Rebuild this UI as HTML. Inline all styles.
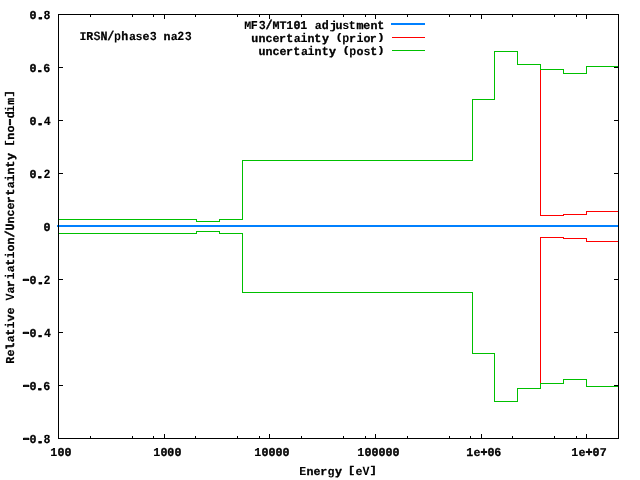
<!DOCTYPE html>
<html lang="en">
<head>
<meta charset="utf-8">
<title>IRSN/phase3 na23</title>
<style>
html,body{margin:0;padding:0;background:#ffffff;}
body{width:640px;height:480px;overflow:hidden;}
svg{display:block;}
svg rect{shape-rendering:crispEdges;}
svg text{text-rendering:geometricPrecision;font-family:"Liberation Mono",monospace;font-weight:bold;font-size:12.1px;fill:#000;stroke:#000;stroke-width:0.3px;stroke-linejoin:round;}
.t0{stroke-width:0.39px}
.t1{font-size:11.3px;stroke-width:0.76px}
.t2{font-size:12.3px;stroke-width:0.12px}
.t3{font-size:11.3px;stroke-width:0.69px}
.t4{stroke-width:0.24px}
.t5{stroke-width:0.35px}
.t6{font-size:12.5px;stroke-width:0.21px}
.t7{stroke-width:0.37px}
.t8{font-size:12.7px;stroke-width:0.08px}
.t9{font-size:11.7px;stroke-width:0.82px}
.t10{stroke-width:0.33px}
.t11{font-size:11.3px;stroke-width:0.78px}
.t12{font-size:11.3px;stroke-width:0.7px}
.t13{font-size:11.3px;stroke-width:0.75px}
.t14{stroke-width:0.2px}
.t15{stroke-width:0.29px}
.t16{stroke-width:0.21px}
.t17{stroke-width:0.41px}
.t18{stroke-width:0.27px}
.t19{font-size:11.5px;stroke-width:0.2px}
.t20{stroke-width:0.65px}
.t21{stroke-width:0.38px}
.t22{stroke-width:0.17px}
.t23{font-size:11.5px;stroke-width:0.22px}
.t24{font-size:11.9px;stroke-width:0.23px}
.t25{font-size:12.3px;stroke-width:0px;fill-opacity:0.99}
.t26{font-size:11.3px;stroke-width:0.33px}
.t27{font-size:11.3px;stroke-width:0.25px}
.t28{font-size:11.5px;stroke-width:0.03px}
.t29{font-size:11.3px;stroke-width:0.39px}
.t30{font-size:9.7px;stroke-width:0.28px}
.t31{font-size:11.5px;stroke-width:0.15px}
.t32{font-size:12.5px;stroke-width:0px}
.t33{font-size:9.7px;stroke-width:0.29px}
.t34{font-size:11.7px;stroke-width:0.15px}
.t35{font-size:12.7px;stroke-width:0.06px;fill-opacity:0.93}
.t36{font-size:12.7px;stroke-width:0.3px}
.t37{font-size:12.7px;stroke-width:0.33px}
.t38{font-size:12.5px;stroke-width:0.01px}
.t39{font-size:11.7px;stroke-width:0.13px}
.t40{font-size:11.7px;stroke-width:0.05px}
.t41{font-size:12.3px;stroke-width:0.06px}
.t42{font-size:11.7px;stroke-width:0.11px}
.t43{font-size:12.3px;stroke-width:0.04px}
.t44{font-size:11.3px;stroke-width:0.08px}
.t45{font-size:12.7px;stroke-width:0.44px}
.t46{font-size:11.3px;stroke-width:0.24px}
.t47{font-size:11.5px;stroke-width:0.19px}
.t48{stroke-width:0.15px}
.t49{stroke-width:0.23px}
.t50{font-size:11.7px;stroke-width:0.07px}
.t51{font-size:12.3px;stroke-width:0.25px}
.t52{font-size:11.3px;stroke-width:0.15px}
.t53{font-size:11.5px;stroke-width:0.3px}
.t54{font-size:11.7px;stroke-width:0.02px}
.t55{stroke-width:0.06px}
.t56{font-size:11.3px;stroke-width:0.31px}
.t57{stroke-width:0.26px}
.t58{font-size:11.7px;stroke-width:0.23px}
.t59{stroke-width:0.3px}
.t60{font-size:12.7px;stroke-width:0.07px}
.t61{stroke-width:0.34px}
.t62{font-size:11.3px;stroke-width:0.42px}
.t63{font-size:9.54px;stroke-width:0.17px}
.t64{font-size:12.5px;stroke-width:0px;fill-opacity:0.99}
.t65{font-size:11.3px;stroke-width:0.27px}
.t66{font-size:12.7px;stroke-width:0.04px}
.t67{font-size:9.54px;stroke-width:0.2px}
.t68{font-size:11.3px;stroke-width:0.29px}
.t69{font-size:11.7px;stroke-width:0.25px}
.t70{stroke-width:0.28px}
.t71{font-size:11.3px;stroke-width:0.43px}
.t72{font-size:9.54px;stroke-width:0.22px}
.t73{font-size:9.54px;stroke-width:0.18px}
.t74{stroke-width:0.18px}
.t75{font-size:11.5px;stroke-width:0.18px}
.t76{font-size:11.3px;stroke-width:0.63px}
.t77{font-size:11.7px;stroke-width:0.08px}
.t78{font-size:12.7px;stroke-width:0.15px}
.t79{font-size:11.5px;stroke-width:0.29px}
.t80{font-size:12.7px;stroke-width:0.12px}
.t81{font-size:11.3px;stroke-width:0.26px}
.t82{font-size:11.3px;stroke-width:0.35px}
.t83{font-size:12.7px;stroke-width:0.49px}
.t84{font-size:12.5px;stroke-width:0.29px}
.t85{font-size:11.7px;stroke-width:0.17px}
.t86{font-size:12.7px;stroke-width:0.2px}
.t87{font-size:9.7px;stroke-width:0.25px}
.t88{font-size:11.3px;stroke-width:0.23px}
.t89{font-size:11.7px;stroke-width:0.78px}
.t90{font-size:12.3px;stroke-width:0.2px}
.t91{font-size:12.7px;stroke-width:0px;fill-opacity:0.99}
.t92{font-size:9.7px;stroke-width:0.36px}
</style>
</head>
<body>
<svg width="640" height="480" viewBox="0 0 640 480" role="img" aria-label="IRSN/phase3 na23: relative variation and uncertainty versus energy">
<rect x="0" y="0" width="640" height="480" fill="#ffffff"/>
<g id="tics">
<rect x="58" y="434" width="1" height="5" fill="#000000"/>
<rect x="58" y="14" width="1" height="5" fill="#000000"/>
<rect x="164" y="434" width="1" height="5" fill="#000000"/>
<rect x="164" y="14" width="1" height="5" fill="#000000"/>
<rect x="269" y="434" width="1" height="5" fill="#000000"/>
<rect x="269" y="14" width="1" height="5" fill="#000000"/>
<rect x="375" y="434" width="1" height="5" fill="#000000"/>
<rect x="375" y="14" width="1" height="5" fill="#000000"/>
<rect x="481" y="434" width="1" height="5" fill="#000000"/>
<rect x="481" y="14" width="1" height="5" fill="#000000"/>
<rect x="586" y="434" width="1" height="5" fill="#000000"/>
<rect x="586" y="14" width="1" height="5" fill="#000000"/>
<rect x="90" y="436" width="1" height="3" fill="#000000"/>
<rect x="90" y="14" width="1" height="3" fill="#000000"/>
<rect x="132" y="436" width="1" height="3" fill="#000000"/>
<rect x="132" y="14" width="1" height="3" fill="#000000"/>
<rect x="153" y="436" width="1" height="3" fill="#000000"/>
<rect x="153" y="14" width="1" height="3" fill="#000000"/>
<rect x="195" y="436" width="1" height="3" fill="#000000"/>
<rect x="195" y="14" width="1" height="3" fill="#000000"/>
<rect x="237" y="436" width="1" height="3" fill="#000000"/>
<rect x="237" y="14" width="1" height="3" fill="#000000"/>
<rect x="259" y="436" width="1" height="3" fill="#000000"/>
<rect x="259" y="14" width="1" height="3" fill="#000000"/>
<rect x="301" y="436" width="1" height="3" fill="#000000"/>
<rect x="301" y="14" width="1" height="3" fill="#000000"/>
<rect x="343" y="436" width="1" height="3" fill="#000000"/>
<rect x="343" y="14" width="1" height="3" fill="#000000"/>
<rect x="365" y="436" width="1" height="3" fill="#000000"/>
<rect x="365" y="14" width="1" height="3" fill="#000000"/>
<rect x="407" y="436" width="1" height="3" fill="#000000"/>
<rect x="407" y="14" width="1" height="3" fill="#000000"/>
<rect x="449" y="436" width="1" height="3" fill="#000000"/>
<rect x="449" y="14" width="1" height="3" fill="#000000"/>
<rect x="470" y="436" width="1" height="3" fill="#000000"/>
<rect x="470" y="14" width="1" height="3" fill="#000000"/>
<rect x="512" y="436" width="1" height="3" fill="#000000"/>
<rect x="512" y="14" width="1" height="3" fill="#000000"/>
<rect x="554" y="436" width="1" height="3" fill="#000000"/>
<rect x="554" y="14" width="1" height="3" fill="#000000"/>
<rect x="576" y="436" width="1" height="3" fill="#000000"/>
<rect x="576" y="14" width="1" height="3" fill="#000000"/>
<rect x="58" y="14" width="5" height="1" fill="#000000"/>
<rect x="614" y="14" width="5" height="1" fill="#000000"/>
<rect x="58" y="67" width="5" height="1" fill="#000000"/>
<rect x="614" y="67" width="5" height="1" fill="#000000"/>
<rect x="58" y="120" width="5" height="1" fill="#000000"/>
<rect x="614" y="120" width="5" height="1" fill="#000000"/>
<rect x="58" y="173" width="5" height="1" fill="#000000"/>
<rect x="614" y="173" width="5" height="1" fill="#000000"/>
<rect x="58" y="226" width="5" height="1" fill="#000000"/>
<rect x="614" y="226" width="5" height="1" fill="#000000"/>
<rect x="58" y="279" width="5" height="1" fill="#000000"/>
<rect x="614" y="279" width="5" height="1" fill="#000000"/>
<rect x="58" y="332" width="5" height="1" fill="#000000"/>
<rect x="614" y="332" width="5" height="1" fill="#000000"/>
<rect x="58" y="385" width="5" height="1" fill="#000000"/>
<rect x="614" y="385" width="5" height="1" fill="#000000"/>
<rect x="58" y="438" width="5" height="1" fill="#000000"/>
<rect x="614" y="438" width="5" height="1" fill="#000000"/>
</g>
<g id="curves">
<rect x="57" y="225" width="561" height="2" fill="#0080ff"/>
<rect x="58" y="219" width="139" height="1" fill="#ff0000"/>
<rect x="196" y="219" width="1" height="3" fill="#ff0000"/>
<rect x="196" y="221" width="24" height="1" fill="#ff0000"/>
<rect x="219" y="219" width="1" height="3" fill="#ff0000"/>
<rect x="219" y="219" width="24" height="1" fill="#ff0000"/>
<rect x="242" y="160" width="1" height="60" fill="#ff0000"/>
<rect x="242" y="160" width="231" height="1" fill="#ff0000"/>
<rect x="472" y="99" width="1" height="62" fill="#ff0000"/>
<rect x="472" y="99" width="23" height="1" fill="#ff0000"/>
<rect x="494" y="51" width="1" height="49" fill="#ff0000"/>
<rect x="494" y="51" width="24" height="1" fill="#ff0000"/>
<rect x="517" y="51" width="1" height="14" fill="#ff0000"/>
<rect x="517" y="64" width="24" height="1" fill="#ff0000"/>
<rect x="540" y="64" width="1" height="152" fill="#ff0000"/>
<rect x="540" y="215" width="24" height="1" fill="#ff0000"/>
<rect x="563" y="214" width="1" height="2" fill="#ff0000"/>
<rect x="563" y="214" width="24" height="1" fill="#ff0000"/>
<rect x="586" y="211" width="1" height="4" fill="#ff0000"/>
<rect x="586" y="211" width="33" height="1" fill="#ff0000"/>
<rect x="58" y="233" width="139" height="1" fill="#ff0000"/>
<rect x="196" y="231" width="1" height="3" fill="#ff0000"/>
<rect x="196" y="231" width="24" height="1" fill="#ff0000"/>
<rect x="219" y="231" width="1" height="3" fill="#ff0000"/>
<rect x="219" y="233" width="24" height="1" fill="#ff0000"/>
<rect x="242" y="233" width="1" height="60" fill="#ff0000"/>
<rect x="242" y="292" width="231" height="1" fill="#ff0000"/>
<rect x="472" y="292" width="1" height="62" fill="#ff0000"/>
<rect x="472" y="353" width="23" height="1" fill="#ff0000"/>
<rect x="494" y="353" width="1" height="49" fill="#ff0000"/>
<rect x="494" y="401" width="24" height="1" fill="#ff0000"/>
<rect x="517" y="388" width="1" height="14" fill="#ff0000"/>
<rect x="517" y="388" width="24" height="1" fill="#ff0000"/>
<rect x="540" y="237" width="1" height="152" fill="#ff0000"/>
<rect x="540" y="237" width="24" height="1" fill="#ff0000"/>
<rect x="563" y="237" width="1" height="2" fill="#ff0000"/>
<rect x="563" y="238" width="24" height="1" fill="#ff0000"/>
<rect x="586" y="238" width="1" height="4" fill="#ff0000"/>
<rect x="586" y="241" width="33" height="1" fill="#ff0000"/>
<rect x="58" y="219" width="139" height="1" fill="#00c000"/>
<rect x="196" y="219" width="1" height="3" fill="#00c000"/>
<rect x="196" y="221" width="24" height="1" fill="#00c000"/>
<rect x="219" y="219" width="1" height="3" fill="#00c000"/>
<rect x="219" y="219" width="24" height="1" fill="#00c000"/>
<rect x="242" y="160" width="1" height="60" fill="#00c000"/>
<rect x="242" y="160" width="231" height="1" fill="#00c000"/>
<rect x="472" y="99" width="1" height="62" fill="#00c000"/>
<rect x="472" y="99" width="23" height="1" fill="#00c000"/>
<rect x="494" y="51" width="1" height="49" fill="#00c000"/>
<rect x="494" y="51" width="24" height="1" fill="#00c000"/>
<rect x="517" y="51" width="1" height="14" fill="#00c000"/>
<rect x="517" y="64" width="24" height="1" fill="#00c000"/>
<rect x="540" y="64" width="1" height="6" fill="#00c000"/>
<rect x="540" y="69" width="24" height="1" fill="#00c000"/>
<rect x="563" y="69" width="1" height="5" fill="#00c000"/>
<rect x="563" y="73" width="24" height="1" fill="#00c000"/>
<rect x="586" y="66" width="1" height="8" fill="#00c000"/>
<rect x="586" y="66" width="33" height="1" fill="#00c000"/>
<rect x="58" y="233" width="139" height="1" fill="#00c000"/>
<rect x="196" y="231" width="1" height="3" fill="#00c000"/>
<rect x="196" y="231" width="24" height="1" fill="#00c000"/>
<rect x="219" y="231" width="1" height="3" fill="#00c000"/>
<rect x="219" y="233" width="24" height="1" fill="#00c000"/>
<rect x="242" y="233" width="1" height="60" fill="#00c000"/>
<rect x="242" y="292" width="231" height="1" fill="#00c000"/>
<rect x="472" y="292" width="1" height="62" fill="#00c000"/>
<rect x="472" y="353" width="23" height="1" fill="#00c000"/>
<rect x="494" y="353" width="1" height="49" fill="#00c000"/>
<rect x="494" y="401" width="24" height="1" fill="#00c000"/>
<rect x="517" y="388" width="1" height="14" fill="#00c000"/>
<rect x="517" y="388" width="24" height="1" fill="#00c000"/>
<rect x="540" y="383" width="1" height="6" fill="#00c000"/>
<rect x="540" y="383" width="24" height="1" fill="#00c000"/>
<rect x="563" y="379" width="1" height="5" fill="#00c000"/>
<rect x="563" y="379" width="24" height="1" fill="#00c000"/>
<rect x="586" y="379" width="1" height="8" fill="#00c000"/>
<rect x="586" y="386" width="33" height="1" fill="#00c000"/>
</g>
<g id="key">
<rect x="391" y="23" width="34" height="2" fill="#0080ff"/>
<rect x="392" y="37" width="33" height="1" fill="#ff0000"/>
<rect x="392" y="50" width="33" height="1" fill="#00c000"/>
</g>
<g id="border">
<rect x="58" y="14" width="561" height="1" fill="#000000"/>
<rect x="58" y="438" width="561" height="1" fill="#000000"/>
<rect x="58" y="14" width="1" height="425" fill="#000000"/>
<rect x="618" y="14" width="1" height="425" fill="#000000"/>
</g>
<g id="labels">
<text><tspan class="t0" x="29.5" y="19" textLength="7" lengthAdjust="spacingAndGlyphs">0</tspan><tspan class="t1" x="35.25" y="19" textLength="10.17" lengthAdjust="spacingAndGlyphs">.</tspan><tspan class="t2" x="43.5" y="19" textLength="7" lengthAdjust="spacingAndGlyphs">8</tspan></text>
<text><tspan class="t0" x="29.5" y="72" textLength="7" lengthAdjust="spacingAndGlyphs">0</tspan><tspan class="t3" x="34.75" y="72" textLength="10.17" lengthAdjust="spacingAndGlyphs">.</tspan><tspan class="t4" x="43.25" y="72" textLength="7" lengthAdjust="spacingAndGlyphs">6</tspan></text>
<text><tspan class="t5" x="29.5" y="125" textLength="7" lengthAdjust="spacingAndGlyphs">0</tspan><tspan class="t1" x="35" y="125" textLength="10.17" lengthAdjust="spacingAndGlyphs">.</tspan><tspan class="t6" x="43.75" y="125" textLength="7" lengthAdjust="spacingAndGlyphs">4</tspan></text>
<text><tspan class="t7" x="29.5" y="178" textLength="7" lengthAdjust="spacingAndGlyphs">0</tspan><tspan class="t1" x="34.75" y="178" textLength="10.17" lengthAdjust="spacingAndGlyphs">.</tspan><tspan class="t8" x="43.5" y="178" textLength="7" lengthAdjust="spacingAndGlyphs">2</tspan></text>
<text><tspan class="t0" x="43.5" y="231" textLength="7" lengthAdjust="spacingAndGlyphs">0</tspan></text>
<text><tspan class="t9" x="20.5" y="283" textLength="10.88" lengthAdjust="spacingAndGlyphs">-</tspan><tspan class="t10" x="29.5" y="284" textLength="7" lengthAdjust="spacingAndGlyphs">0</tspan><tspan class="t11" x="35.25" y="284" textLength="10.17" lengthAdjust="spacingAndGlyphs">.</tspan><tspan class="t8" x="43.5" y="284" textLength="7" lengthAdjust="spacingAndGlyphs">2</tspan></text>
<text><tspan class="t9" x="20.5" y="336" textLength="10.88" lengthAdjust="spacingAndGlyphs">-</tspan><tspan class="t10" x="29.5" y="337" textLength="7" lengthAdjust="spacingAndGlyphs">0</tspan><tspan class="t12" x="35" y="337" textLength="10.17" lengthAdjust="spacingAndGlyphs">.</tspan><tspan class="t6" x="44" y="337" textLength="7" lengthAdjust="spacingAndGlyphs">4</tspan></text>
<text><tspan class="t9" x="20.75" y="389" textLength="10.88" lengthAdjust="spacingAndGlyphs">-</tspan><tspan class="t10" x="29.5" y="390" textLength="7" lengthAdjust="spacingAndGlyphs">0</tspan><tspan class="t13" x="34.75" y="390" textLength="10.17" lengthAdjust="spacingAndGlyphs">.</tspan><tspan class="t14" x="43.25" y="390" textLength="7" lengthAdjust="spacingAndGlyphs">6</tspan></text>
<text><tspan class="t9" x="20.75" y="442" textLength="10.88" lengthAdjust="spacingAndGlyphs">-</tspan><tspan class="t15" x="29.5" y="443" textLength="7" lengthAdjust="spacingAndGlyphs">0</tspan><tspan class="t1" x="35" y="443" textLength="10.17" lengthAdjust="spacingAndGlyphs">.</tspan><tspan class="t2" x="43.5" y="443" textLength="7" lengthAdjust="spacingAndGlyphs">8</tspan></text>
<text><tspan class="t16" x="50.25" y="456" textLength="7" lengthAdjust="spacingAndGlyphs">1</tspan><tspan class="t0" x="57.5" y="456" textLength="7" lengthAdjust="spacingAndGlyphs">0</tspan><tspan class="t0" x="64.5" y="456" textLength="7" lengthAdjust="spacingAndGlyphs">0</tspan></text>
<text><tspan class="t16" x="153.25" y="456" textLength="7" lengthAdjust="spacingAndGlyphs">1</tspan><tspan class="t10" x="160.5" y="456" textLength="7" lengthAdjust="spacingAndGlyphs">0</tspan><tspan class="t7" x="167.25" y="456" textLength="7" lengthAdjust="spacingAndGlyphs">0</tspan><tspan class="t0" x="174.5" y="456" textLength="7" lengthAdjust="spacingAndGlyphs">0</tspan></text>
<text><tspan class="t16" x="254.25" y="456" textLength="7" lengthAdjust="spacingAndGlyphs">1</tspan><tspan class="t0" x="261.5" y="456" textLength="7" lengthAdjust="spacingAndGlyphs">0</tspan><tspan class="t17" x="268.5" y="456" textLength="7" lengthAdjust="spacingAndGlyphs">0</tspan><tspan class="t0" x="275.5" y="456" textLength="7" lengthAdjust="spacingAndGlyphs">0</tspan><tspan class="t7" x="282.5" y="456" textLength="7" lengthAdjust="spacingAndGlyphs">0</tspan></text>
<text><tspan class="t16" x="357.25" y="456" textLength="7" lengthAdjust="spacingAndGlyphs">1</tspan><tspan class="t0" x="364.5" y="456" textLength="7" lengthAdjust="spacingAndGlyphs">0</tspan><tspan class="t17" x="371.5" y="456" textLength="7" lengthAdjust="spacingAndGlyphs">0</tspan><tspan class="t0" x="378.5" y="456" textLength="7" lengthAdjust="spacingAndGlyphs">0</tspan><tspan class="t0" x="385.5" y="456" textLength="7" lengthAdjust="spacingAndGlyphs">0</tspan><tspan class="t0" x="392.5" y="456" textLength="7" lengthAdjust="spacingAndGlyphs">0</tspan></text>
<text><tspan class="t18" x="466.25" y="456" textLength="7" lengthAdjust="spacingAndGlyphs">1</tspan><tspan class="t19" x="473.5" y="456" textLength="7" lengthAdjust="spacingAndGlyphs">e</tspan><tspan class="t20" x="480.5" y="456" textLength="7" lengthAdjust="spacingAndGlyphs">+</tspan><tspan class="t21" x="487.5" y="456" textLength="7" lengthAdjust="spacingAndGlyphs">0</tspan><tspan class="t4" x="494.25" y="456" textLength="7" lengthAdjust="spacingAndGlyphs">6</tspan></text>
<text><tspan class="t22" x="571.25" y="456" textLength="7" lengthAdjust="spacingAndGlyphs">1</tspan><tspan class="t23" x="578.5" y="456" textLength="7" lengthAdjust="spacingAndGlyphs">e</tspan><tspan class="t20" x="585.5" y="456" textLength="7" lengthAdjust="spacingAndGlyphs">+</tspan><tspan class="t0" x="592.5" y="456" textLength="7" lengthAdjust="spacingAndGlyphs">0</tspan><tspan class="t24" x="599.75" y="456" textLength="7" lengthAdjust="spacingAndGlyphs">7</tspan></text>
<text><tspan class="t25" x="299.25" y="475" textLength="7" lengthAdjust="spacingAndGlyphs">E</tspan><tspan class="t26" x="306.5" y="475" textLength="7" lengthAdjust="spacingAndGlyphs">n</tspan><tspan class="t23" x="313.5" y="475" textLength="7" lengthAdjust="spacingAndGlyphs">e</tspan><tspan class="t27" x="320.25" y="475" textLength="7" lengthAdjust="spacingAndGlyphs">r</tspan><tspan class="t28" x="327.5" y="475" textLength="7" lengthAdjust="spacingAndGlyphs">g</tspan><tspan class="t29" x="335" y="475" textLength="7" lengthAdjust="spacingAndGlyphs">y</tspan> <tspan class="t30" x="347.75" y="473" textLength="7.57" lengthAdjust="spacingAndGlyphs">[</tspan><tspan class="t31" x="355.5" y="475" textLength="7" lengthAdjust="spacingAndGlyphs">e</tspan><tspan class="t32" x="362.5" y="475" textLength="7" lengthAdjust="spacingAndGlyphs">V</tspan><tspan class="t33" x="369.5" y="473" textLength="7.57" lengthAdjust="spacingAndGlyphs">]</tspan></text>
<text><tspan class="t34" x="79.5" y="40" textLength="7" lengthAdjust="spacingAndGlyphs">I</tspan><tspan class="t16" x="86.25" y="40" textLength="7" lengthAdjust="spacingAndGlyphs">R</tspan><tspan class="t35" x="93.5" y="40" textLength="7" lengthAdjust="spacingAndGlyphs">S</tspan><tspan class="t36" x="100.5" y="40" textLength="7" lengthAdjust="spacingAndGlyphs">N</tspan><tspan class="t37" x="107.25" y="40" textLength="7" lengthAdjust="spacingAndGlyphs">/</tspan><tspan class="t38" x="114" y="40" textLength="7" lengthAdjust="spacingAndGlyphs">p</tspan><tspan class="t15" x="121.25" y="40" textLength="7" lengthAdjust="spacingAndGlyphs">h</tspan><tspan class="t39" x="129" y="40" textLength="7" lengthAdjust="spacingAndGlyphs">a</tspan><tspan class="t40" x="135.5" y="40" textLength="7" lengthAdjust="spacingAndGlyphs">s</tspan><tspan class="t23" x="142.5" y="40" textLength="7" lengthAdjust="spacingAndGlyphs">e</tspan><tspan class="t41" x="149.75" y="40" textLength="7" lengthAdjust="spacingAndGlyphs">3</tspan> <tspan class="t26" x="163.5" y="40" textLength="7" lengthAdjust="spacingAndGlyphs">n</tspan><tspan class="t42" x="170.75" y="40" textLength="7" lengthAdjust="spacingAndGlyphs">a</tspan><tspan class="t8" x="177.25" y="40" textLength="7" lengthAdjust="spacingAndGlyphs">2</tspan><tspan class="t43" x="184.75" y="40" textLength="7" lengthAdjust="spacingAndGlyphs">3</tspan></text>
<text><tspan class="t44" x="244.25" y="29" textLength="7" lengthAdjust="spacingAndGlyphs">M</tspan><tspan class="t22" x="250.75" y="29" textLength="7" lengthAdjust="spacingAndGlyphs">F</tspan><tspan class="t43" x="258.75" y="29" textLength="7" lengthAdjust="spacingAndGlyphs">3</tspan><tspan class="t45" x="265.5" y="29" textLength="7" lengthAdjust="spacingAndGlyphs">/</tspan><tspan class="t46" x="272.5" y="29" textLength="7" lengthAdjust="spacingAndGlyphs">M</tspan><tspan class="t47" x="279.5" y="29" textLength="7" lengthAdjust="spacingAndGlyphs">T</tspan><tspan class="t48" x="286.25" y="29" textLength="7" lengthAdjust="spacingAndGlyphs">1</tspan><tspan class="t0" x="293.5" y="29" textLength="7" lengthAdjust="spacingAndGlyphs">0</tspan><tspan class="t49" x="300.25" y="29" textLength="7" lengthAdjust="spacingAndGlyphs">1</tspan> <tspan class="t50" x="314.75" y="29" textLength="7" lengthAdjust="spacingAndGlyphs">a</tspan><tspan class="t51" x="321.75" y="29" textLength="7" lengthAdjust="spacingAndGlyphs">d</tspan><tspan class="t52" x="329.5" y="29" textLength="7.8" lengthAdjust="spacingAndGlyphs">j</tspan><tspan class="t53" x="335.5" y="29" textLength="7" lengthAdjust="spacingAndGlyphs">u</tspan><tspan class="t54" x="342.25" y="29" textLength="7" lengthAdjust="spacingAndGlyphs">s</tspan><tspan class="t55" x="348.75" y="29" textLength="7" lengthAdjust="spacingAndGlyphs">t</tspan><tspan class="t26" x="356.5" y="29" textLength="7" lengthAdjust="spacingAndGlyphs">m</tspan><tspan class="t23" x="363.25" y="29" textLength="7" lengthAdjust="spacingAndGlyphs">e</tspan><tspan class="t56" x="370.5" y="29" textLength="7" lengthAdjust="spacingAndGlyphs">n</tspan><tspan class="t57" x="377.25" y="29" textLength="7" lengthAdjust="spacingAndGlyphs">t</tspan></text>
<text><tspan class="t53" x="251.25" y="42" textLength="7" lengthAdjust="spacingAndGlyphs">u</tspan><tspan class="t26" x="258.5" y="42" textLength="7" lengthAdjust="spacingAndGlyphs">n</tspan><tspan class="t58" x="265.5" y="42" textLength="7" lengthAdjust="spacingAndGlyphs">c</tspan><tspan class="t23" x="272.5" y="42" textLength="7" lengthAdjust="spacingAndGlyphs">e</tspan><tspan class="t27" x="279" y="42" textLength="7" lengthAdjust="spacingAndGlyphs">r</tspan><tspan class="t59" x="286.25" y="42" textLength="7" lengthAdjust="spacingAndGlyphs">t</tspan><tspan class="t42" x="293.75" y="42" textLength="7" lengthAdjust="spacingAndGlyphs">a</tspan><tspan class="t60" x="300.5" y="42" textLength="7" lengthAdjust="spacingAndGlyphs">i</tspan><tspan class="t26" x="307.5" y="42" textLength="7" lengthAdjust="spacingAndGlyphs">n</tspan><tspan class="t61" x="314.25" y="42" textLength="7" lengthAdjust="spacingAndGlyphs">t</tspan><tspan class="t62" x="322" y="42" textLength="7" lengthAdjust="spacingAndGlyphs">y</tspan> <tspan class="t63" x="335.5" y="40" textLength="7.44" lengthAdjust="spacingAndGlyphs">(</tspan><tspan class="t64" x="342.25" y="42" textLength="7" lengthAdjust="spacingAndGlyphs">p</tspan><tspan class="t65" x="349" y="42" textLength="7" lengthAdjust="spacingAndGlyphs">r</tspan><tspan class="t66" x="356.5" y="42" textLength="7" lengthAdjust="spacingAndGlyphs">i</tspan><tspan class="t65" x="363.5" y="42" textLength="7" lengthAdjust="spacingAndGlyphs">o</tspan><tspan class="t65" x="369.75" y="42" textLength="7" lengthAdjust="spacingAndGlyphs">r</tspan><tspan class="t67" x="377.25" y="40" textLength="7.44" lengthAdjust="spacingAndGlyphs">)</tspan></text>
<text><tspan class="t53" x="258.5" y="55" textLength="7" lengthAdjust="spacingAndGlyphs">u</tspan><tspan class="t68" x="265.5" y="55" textLength="7" lengthAdjust="spacingAndGlyphs">n</tspan><tspan class="t69" x="272.5" y="55" textLength="7" lengthAdjust="spacingAndGlyphs">c</tspan><tspan class="t23" x="279.5" y="55" textLength="7" lengthAdjust="spacingAndGlyphs">e</tspan><tspan class="t27" x="286" y="55" textLength="7" lengthAdjust="spacingAndGlyphs">r</tspan><tspan class="t70" x="293.25" y="55" textLength="7" lengthAdjust="spacingAndGlyphs">t</tspan><tspan class="t42" x="301" y="55" textLength="7" lengthAdjust="spacingAndGlyphs">a</tspan><tspan class="t60" x="307.5" y="55" textLength="7" lengthAdjust="spacingAndGlyphs">i</tspan><tspan class="t26" x="314.5" y="55" textLength="7" lengthAdjust="spacingAndGlyphs">n</tspan><tspan class="t16" x="321.75" y="55" textLength="7" lengthAdjust="spacingAndGlyphs">t</tspan><tspan class="t71" x="329" y="55" textLength="7" lengthAdjust="spacingAndGlyphs">y</tspan> <tspan class="t72" x="342.5" y="53" textLength="7.44" lengthAdjust="spacingAndGlyphs">(</tspan><tspan class="t64" x="349.25" y="55" textLength="7" lengthAdjust="spacingAndGlyphs">p</tspan><tspan class="t65" x="356.5" y="55" textLength="7" lengthAdjust="spacingAndGlyphs">o</tspan><tspan class="t40" x="363.5" y="55" textLength="7" lengthAdjust="spacingAndGlyphs">s</tspan><tspan class="t70" x="370.25" y="55" textLength="7" lengthAdjust="spacingAndGlyphs">t</tspan><tspan class="t73" x="377.25" y="53" textLength="7.44" lengthAdjust="spacingAndGlyphs">)</tspan></text>
<text transform="translate(14,363) rotate(-90)"><tspan class="t74" x="-0.75" y="0" textLength="7" lengthAdjust="spacingAndGlyphs">R</tspan><tspan class="t75" x="6.5" y="0" textLength="7" lengthAdjust="spacingAndGlyphs">e</tspan><tspan class="t76" x="13.25" y="0" textLength="7" lengthAdjust="spacingAndGlyphs">l</tspan><tspan class="t77" x="20.75" y="0" textLength="7" lengthAdjust="spacingAndGlyphs">a</tspan><tspan class="t59" x="27.25" y="0" textLength="7" lengthAdjust="spacingAndGlyphs">t</tspan><tspan class="t78" x="34.5" y="0" textLength="7" lengthAdjust="spacingAndGlyphs">i</tspan><tspan class="t79" x="41.5" y="0" textLength="7" lengthAdjust="spacingAndGlyphs">v</tspan><tspan class="t75" x="48.5" y="0" textLength="7" lengthAdjust="spacingAndGlyphs">e</tspan> <tspan class="t32" x="62.5" y="0" textLength="7" lengthAdjust="spacingAndGlyphs">V</tspan><tspan class="t42" x="69.5" y="0" textLength="7" lengthAdjust="spacingAndGlyphs">a</tspan><tspan class="t29" x="75.75" y="0" textLength="7" lengthAdjust="spacingAndGlyphs">r</tspan><tspan class="t80" x="83.5" y="0" textLength="7" lengthAdjust="spacingAndGlyphs">i</tspan><tspan class="t77" x="90.75" y="0" textLength="7" lengthAdjust="spacingAndGlyphs">a</tspan><tspan class="t59" x="97.25" y="0" textLength="7" lengthAdjust="spacingAndGlyphs">t</tspan><tspan class="t80" x="104.5" y="0" textLength="7" lengthAdjust="spacingAndGlyphs">i</tspan><tspan class="t81" x="111.5" y="0" textLength="7" lengthAdjust="spacingAndGlyphs">o</tspan><tspan class="t82" x="118.5" y="0" textLength="7" lengthAdjust="spacingAndGlyphs">n</tspan><tspan class="t83" x="125.5" y="0" textLength="7" lengthAdjust="spacingAndGlyphs">/</tspan><tspan class="t84" x="132.5" y="0" textLength="7" lengthAdjust="spacingAndGlyphs">U</tspan><tspan class="t68" x="139.5" y="0" textLength="7" lengthAdjust="spacingAndGlyphs">n</tspan><tspan class="t85" x="146.5" y="0" textLength="7" lengthAdjust="spacingAndGlyphs">c</tspan><tspan class="t47" x="153.5" y="0" textLength="7" lengthAdjust="spacingAndGlyphs">e</tspan><tspan class="t29" x="159.75" y="0" textLength="7" lengthAdjust="spacingAndGlyphs">r</tspan><tspan class="t59" x="167.25" y="0" textLength="7" lengthAdjust="spacingAndGlyphs">t</tspan><tspan class="t77" x="174.75" y="0" textLength="7" lengthAdjust="spacingAndGlyphs">a</tspan><tspan class="t86" x="181.5" y="0" textLength="7" lengthAdjust="spacingAndGlyphs">i</tspan><tspan class="t82" x="188.5" y="0" textLength="7" lengthAdjust="spacingAndGlyphs">n</tspan><tspan class="t59" x="195.25" y="0" textLength="7" lengthAdjust="spacingAndGlyphs">t</tspan><tspan class="t82" x="203" y="0" textLength="7" lengthAdjust="spacingAndGlyphs">y</tspan> <tspan class="t87" x="216" y="-2" textLength="7.57" lengthAdjust="spacingAndGlyphs">[</tspan><tspan class="t26" x="223.25" y="0" textLength="7" lengthAdjust="spacingAndGlyphs">n</tspan><tspan class="t88" x="230.5" y="0" textLength="7" lengthAdjust="spacingAndGlyphs">o</tspan><tspan class="t89" x="235.5" y="-1" textLength="10.88" lengthAdjust="spacingAndGlyphs">-</tspan><tspan class="t90" x="244.75" y="0" textLength="7" lengthAdjust="spacingAndGlyphs">d</tspan><tspan class="t91" x="250.75" y="0" textLength="7" lengthAdjust="spacingAndGlyphs">i</tspan><tspan class="t65" x="258.25" y="0" textLength="7" lengthAdjust="spacingAndGlyphs">m</tspan><tspan class="t92" x="265.5" y="-2" textLength="7.57" lengthAdjust="spacingAndGlyphs">]</tspan></text>
</g>
</svg>
</body>
</html>
